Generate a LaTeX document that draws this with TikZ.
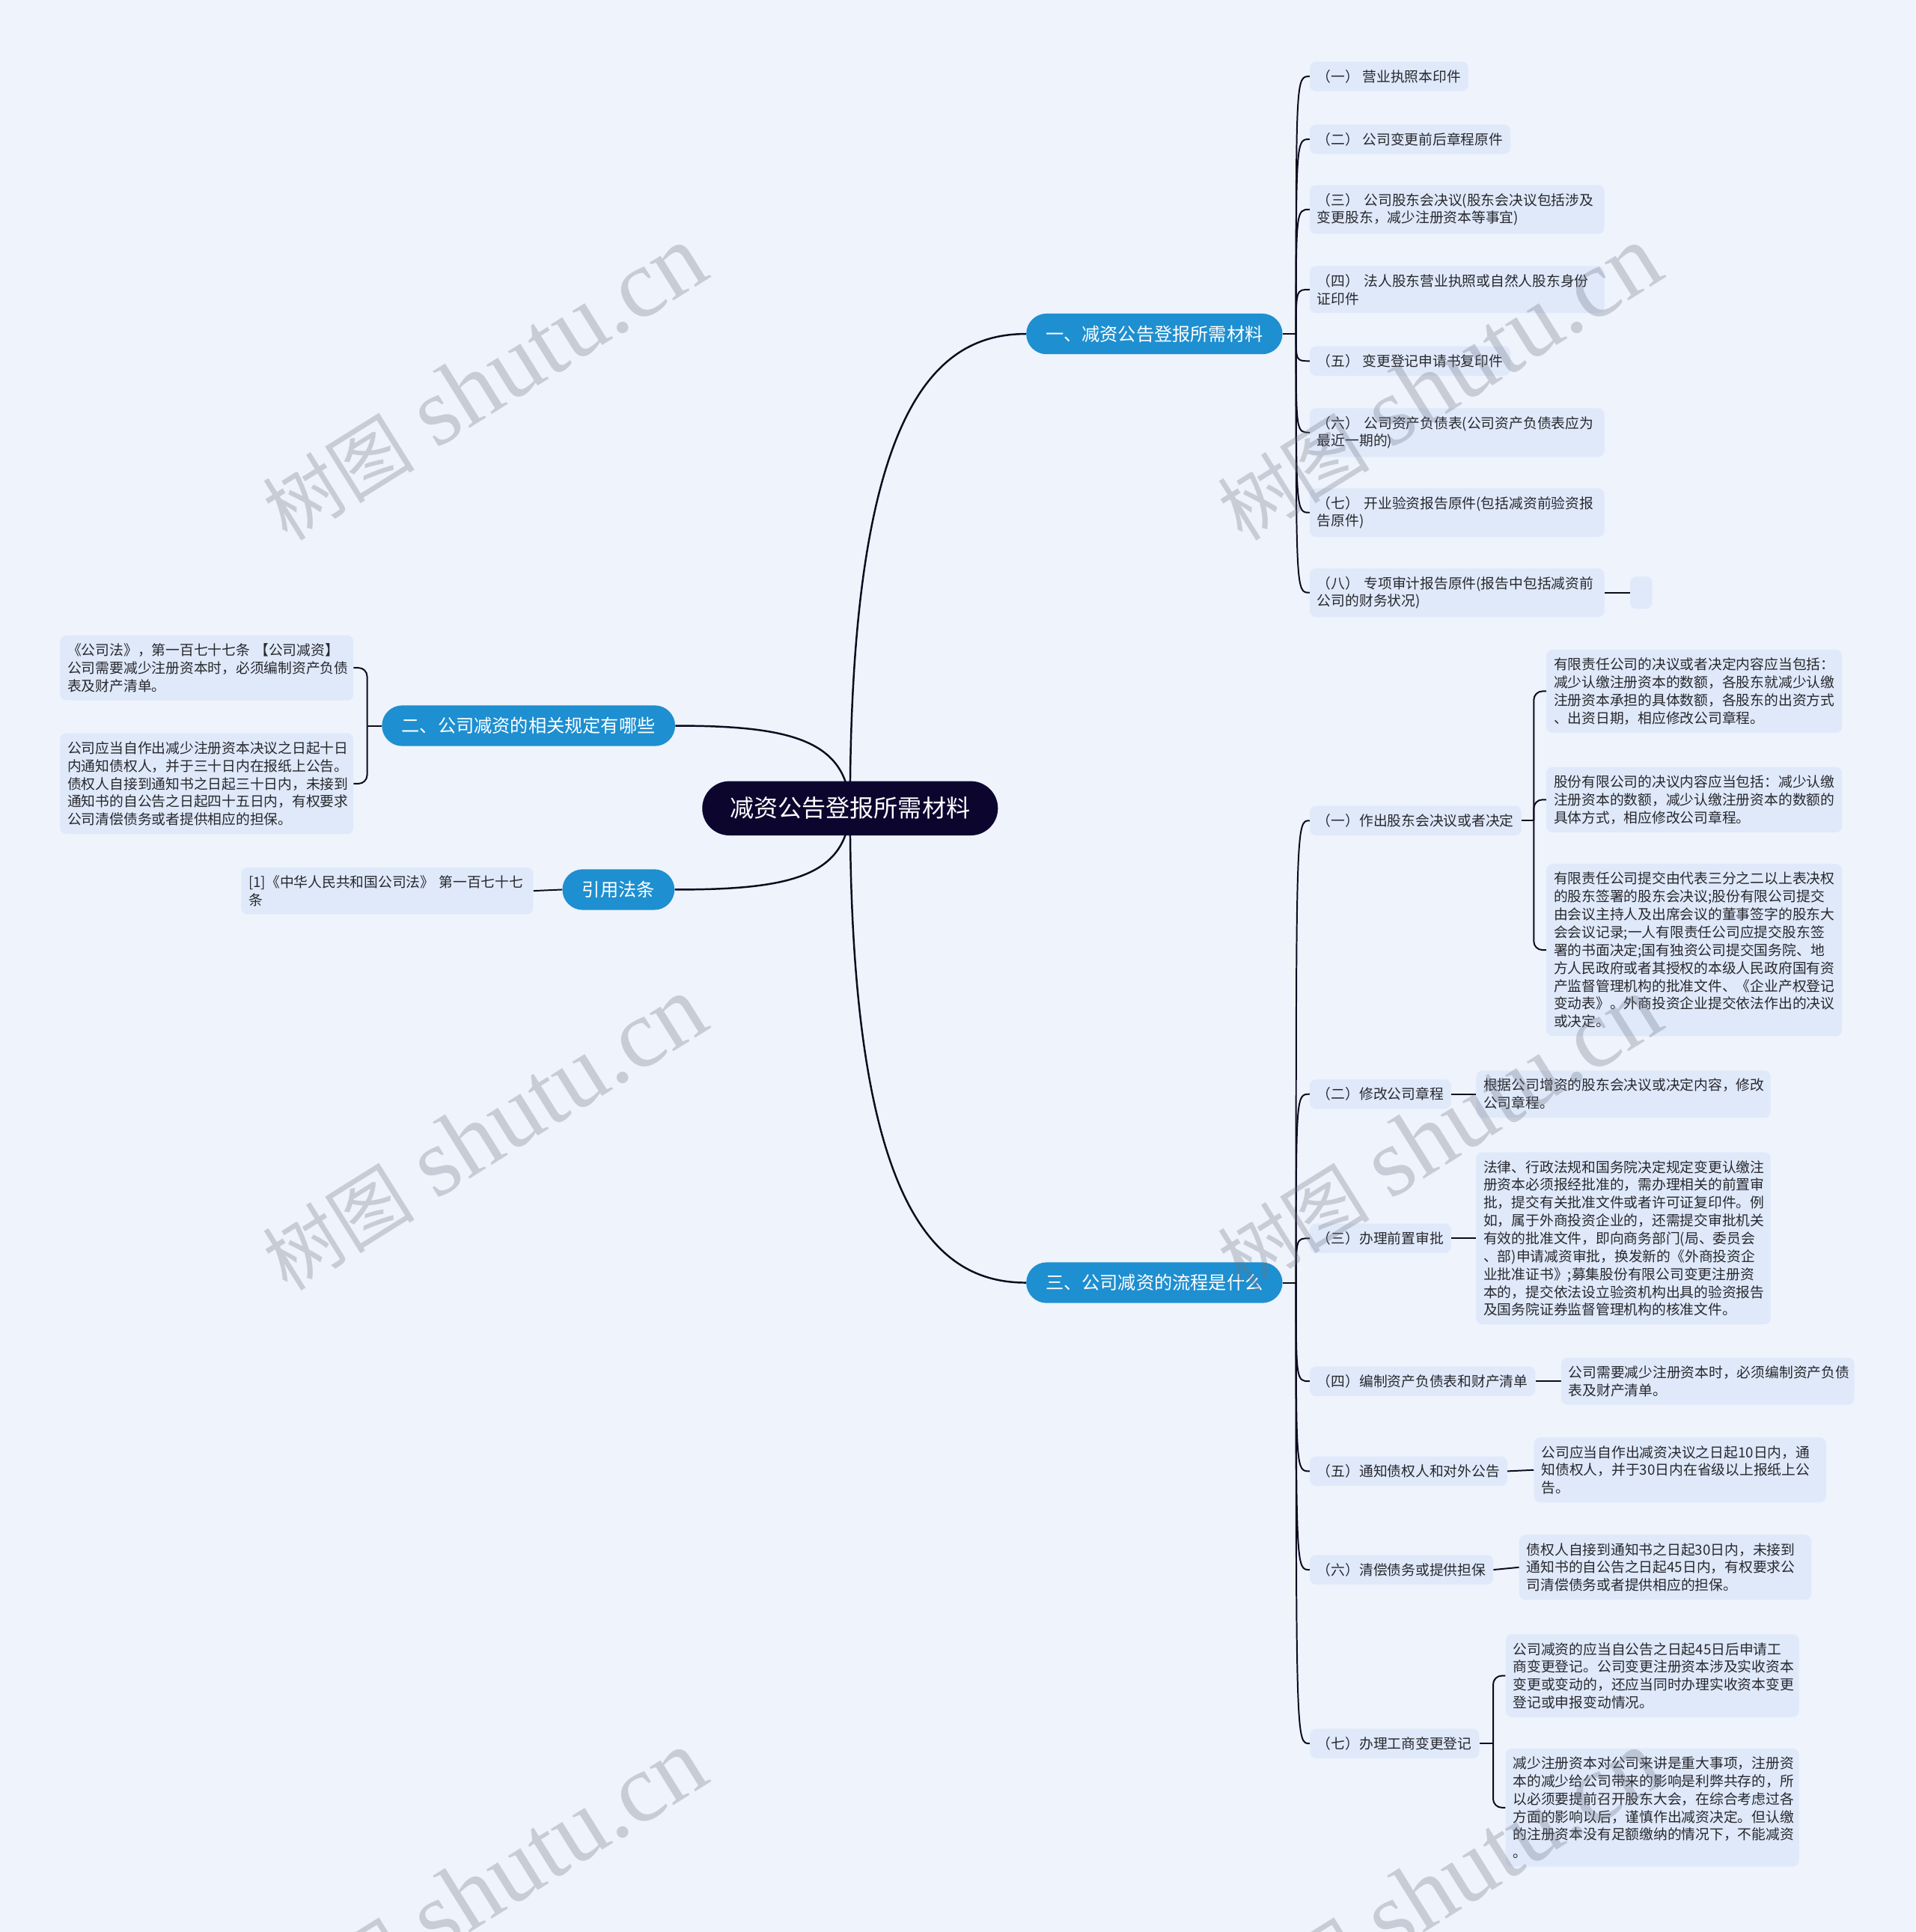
\documentclass[tikz,border=0pt]{standalone}
\usepackage{fontspec}
\setmainfont{Noto Sans CJK SC}
\newfontfamily\wmserif{Liberation Serif}
\definecolor{bgcol}{RGB}{238,243,252}
\definecolor{leafcol}{RGB}{223,233,250}
\definecolor{branchcol}{RGB}{30,143,208}
\definecolor{rootcol}{RGB}{12,6,46}
\definecolor{linecol}{RGB}{12,10,30}
\definecolor{textcol}{RGB}{40,40,45}
\definecolor{wmcol}{RGB}{110,115,130}
\pgfdeclarelayer{bglayer}
\pgfdeclarelayer{linelayer}
\pgfsetlayers{bglayer,linelayer,main}
\tikzset{
  conn/.style={draw=linecol, line width=1.2pt},
  rootnode/.style={fill=rootcol, text=white, rounded corners=22pt, minimum width=240pt, minimum height=44pt, inner sep=0pt, font=\fontsize{19.5}{22}\selectfont},
  branch/.style={fill=branchcol, text=white, rounded corners=16.5pt, minimum height=33pt, inner sep=0pt, font=\fontsize{14.7}{17}\selectfont},
  leaf/.style={fill=leafcol, text=textcol, rounded corners=5pt, inner xsep=6pt, inner ysep=6.5pt, font=\fontsize{11.4}{14.5}\selectfont, align=left, anchor=west},
  leafe/.style={leaf, anchor=east},
  wm/.style={text=wmcol, text opacity=0.3, rotate=32, font=\fontsize{79}{82}\selectfont, inner sep=0pt},
}
\newcommand{\wmtext}{{\fontsize{62}{64}\selectfont 树图} {\wmserif shutu.cn}}
\begin{document}
\begin{tikzpicture}[x=1pt,y=-1pt]
\begin{pgfonlayer}{bglayer}
\fill[bgcol] (0,0) rectangle (1555,1568);
\end{pgfonlayer}
\useasboundingbox (0,0) rectangle (1555,1568);

% root and branches
\node[rootnode] (root) at (690,656) {减资公告登报所需材料};
\node[branch, minimum width=208pt] (b1) at (937,271) {一、减资公告登报所需材料};
\node[branch, minimum width=208pt] (b3) at (937,1041) {三、公司减资的流程是什么};
\node[branch, minimum width=238pt] (b2) at (429,589) {二、公司减资的相关规定有哪些};
\node[branch, minimum width=91pt] (b4) at (502,722) {引用法条};

% branch 1 children
\node[leaf] (c11) at (1063,62) {（一） 营业执照本印件};
\node[leaf] (c12) at (1063,113) {（二） 公司变更前后章程原件};
\node[leaf, text width=227pt] (c13) at (1063,170) {（三） 公司股东会决议(股东会决议包括涉及\\变更股东，减少注册资本等事宜)};
\node[leaf, text width=227pt] (c14) at (1063,235) {（四） 法人股东营业执照或自然人股东身份\\证印件};
\node[leaf] (c15) at (1063,293) {（五） 变更登记申请书复印件};
\node[leaf, text width=227pt] (c16) at (1063,351) {（六） 公司资产负债表(公司资产负债表应为\\最近一期的)};
\node[leaf, text width=227pt] (c17) at (1063,416) {（七） 开业验资报告原件(包括减资前验资报\\告原件)};
\node[leaf, text width=227pt] (c18) at (1063,481) {（八） 专项审计报告原件(报告中包括减资前\\公司的财务状况)};
\node[leaf, inner sep=0pt, minimum width=18pt, minimum height=26pt] (c18e) at (1323,481) {};

% branch 3 children
\node[leaf] (c31) at (1063,666) {（一）作出股东会决议或者决定};
\node[leaf, text width=228pt] (c31a) at (1255,561) {有限责任公司的决议或者决定内容应当包括：\\减少认缴注册资本的数额，各股东就减少认缴\\注册资本承担的具体数额，各股东的出资方式\\、出资日期，相应修改公司章程。};
\node[leaf, text width=228pt] (c31b) at (1255,649) {股份有限公司的决议内容应当包括：减少认缴\\注册资本的数额，减少认缴注册资本的数额的\\具体方式，相应修改公司章程。};
\node[leaf, text width=228pt] (c31c) at (1255,771) {有限责任公司提交由代表三分之二以上表决权\\的股东签署的股东会决议;股份有限公司提交\\由会议主持人及出席会议的董事签字的股东大\\会会议记录;一人有限责任公司应提交股东签\\署的书面决定;国有独资公司提交国务院、地\\方人民政府或者其授权的本级人民政府国有资\\产监督管理机构的批准文件、《企业产权登记\\变动表》。外商投资企业提交依法作出的决议\\或决定。};
\node[leaf] (c32) at (1063,888) {（二）修改公司章程};
\node[leaf, text width=227pt] (c32a) at (1198,888) {根据公司增资的股东会决议或决定内容，修改\\公司章程。};
\node[leaf] (c33) at (1063,1005) {（三）办理前置审批};
\node[leaf, text width=227pt] (c33a) at (1198,1005) {法律、行政法规和国务院决定规定变更认缴注\\册资本必须报经批准的，需办理相关的前置审\\批，提交有关批准文件或者许可证复印件。例\\如，属于外商投资企业的，还需提交审批机关\\有效的批准文件，即向商务部门(局、委员会\\、部)申请减资审批，换发新的《外商投资企\\业批准证书》;募集股份有限公司变更注册资\\本的，提交依法设立验资机构出具的验资报告\\及国务院证券监督管理机构的核准文件。};
\node[leaf] (c34) at (1063,1121) {（四）编制资产负债表和财产清单};
\node[leaf, text width=226pt] (c34a) at (1267,1121) {公司需要减少注册资本时，必须编制资产负债\\表及财产清单。};
\node[leaf] (c35) at (1063,1194) {（五）通知债权人和对外公告};
\node[leaf, text width=225pt] (c35a) at (1245,1193) {公司应当自作出减资决议之日起10日内，通\\知债权人，并于30日内在省级以上报纸上公\\告。};
\node[leaf] (c36) at (1063,1274) {（六）清偿债务或提供担保};
\node[leaf, text width=225pt] (c36a) at (1233,1272) {债权人自接到通知书之日起30日内，未接到\\通知书的自公告之日起45日内，有权要求公\\司清偿债务或者提供相应的担保。};
\node[leaf] (c37) at (1063,1415) {（七）办理工商变更登记};
\node[leaf, text width=226pt] (c37a) at (1222,1360) {公司减资的应当自公告之日起45日后申请工\\商变更登记。公司变更注册资本涉及实收资本\\变更或变动的，还应当同时办理实收资本变更\\登记或申报变动情况。};
\node[leaf, text width=226pt] (c37b) at (1222,1467) {减少注册资本对公司来讲是重大事项，注册资\\本的减少给公司带来的影响是利弊共存的，所\\以必须要提前召开股东大会，在综合考虑过各\\方面的影响以后，谨慎作出减资决定。但认缴\\的注册资本没有足额缴纳的情况下，不能减资\\。};

% branch 2 children
\node[leafe, text width=226pt] (c21) at (287,542) {《公司法》，第一百七十七条 【公司减资】\\公司需要减少注册资本时，必须编制资产负债\\表及财产清单。};
\node[leafe, text width=226pt] (c22) at (287,636) {公司应当自作出减少注册资本决议之日起十日\\内通知债权人，并于三十日内在报纸上公告。\\债权人自接到通知书之日起三十日内，未接到\\通知书的自公告之日起四十五日内，有权要求\\公司清偿债务或者提供相应的担保。};
\node[leafe, text width=225pt] (c41) at (433,723) {[1]《中华人民共和国公司法》 第一百七十七\\条};

% junction coordinates
\coordinate (j1) at (1052,271);
\coordinate (j3) at (1052,1041);
\coordinate (k1) at (1245,666);
\coordinate (k7) at (1212,1415);
\coordinate (k2) at (298,589);

\begin{pgfonlayer}{linelayer}
% root curves
\draw[conn, line width=1.5pt] (root.center) .. controls (690,330) and (760,271) .. (b1.west);
\draw[conn, line width=1.5pt] (root.center) .. controls (690,982) and (760,1041) .. (b3.west);
\draw[conn, line width=1.5pt] (root.center) .. controls (688,600) and (640,589) .. (b2.east);
\draw[conn, line width=1.5pt] (root.center) .. controls (688,712) and (640,722) .. (b4.east);
% branch 1
\draw[conn] (b1.east) -- (j1);
\foreach \c in {c11,c12,c13,c14,c15,c16,c17,c18}
  \draw[conn] (j1) .. controls (j1 |- \c.west) .. (\c.west);
\draw[conn] (c18.east) -- (c18e.west);
% branch 3
\draw[conn] (b3.east) -- (j3);
\foreach \c in {c31,c32,c33,c34,c35,c36,c37}
  \draw[conn] (j3) .. controls (j3 |- \c.west) .. (\c.west);
\draw[conn] (c31.east) -- (k1);
\foreach \c in {c31a,c31b,c31c}
  \draw[conn, rounded corners=7pt] (k1) |- (\c.west);
\draw[conn] (c32.east) -- (c32a.west);
\draw[conn] (c33.east) -- (c33a.west);
\draw[conn] (c34.east) -- (c34a.west);
\draw[conn] (c35.east) -- (c35a.west);
\draw[conn] (c36.east) -- (c36a.west);
\draw[conn] (c37.east) -- (k7);
\foreach \c in {c37a,c37b}
  \draw[conn, rounded corners=7pt] (k7) |- (\c.west);
% branch 2
\draw[conn] (b2.west) -- (k2);
\foreach \c in {c21,c22}
  \draw[conn, rounded corners=7pt] (k2) |- (\c.east);
\draw[conn] (b4.west) -- (c41.east);
\end{pgfonlayer}

% watermarks
\node[wm] (w1) at (393,311) {\wmtext};
\node[wm] (w2) at (1168,311) {\wmtext};
\node[wm] (w3) at (393,920) {\wmtext};
\node[wm] (w4) at (1168,920) {\wmtext};
\node[wm] (w5) at (393,1532) {\wmtext};
\node[wm] (w6) at (1168,1532) {\wmtext};
\end{tikzpicture}
\end{document}
